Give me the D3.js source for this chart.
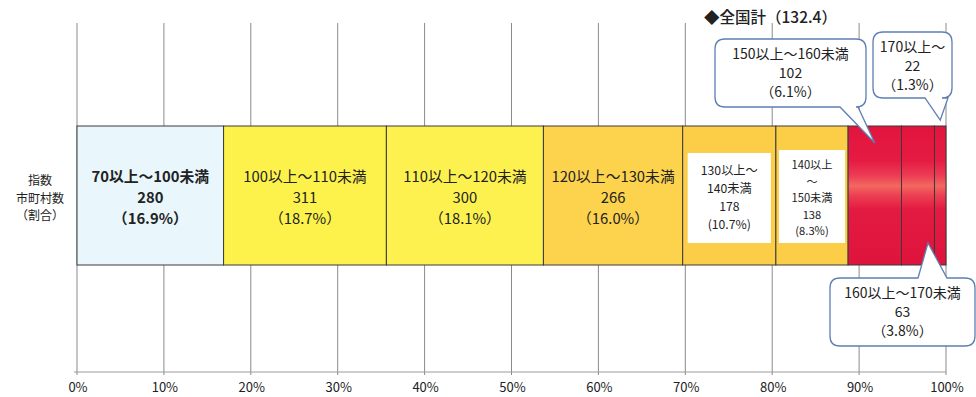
<!DOCTYPE html>
<html>
<head>
<meta charset="utf-8">
<script src="https://cdn.jsdelivr.net/npm/d3@7"></script>
<style>
  body { margin: 0; background: #fff; }
  svg text { font-family: "Noto Sans CJK JP", "Noto Sans", sans-serif; fill: #222; }
</style>
</head>
<body>
<div id="chart"></div>
<script>
// data
var categories = ["70以上～100未満", "100以上～110未満", "110以上～120未満", "120以上～130未満",
                  "130以上～140未満", "140以上～150未満", "150以上～160未満", "160以上～170未満", "170以上～"];
var counts = [280, 311, 300, 266, 178, 138, 102, 63, 22];
var shares = ["16.9%", "18.7%", "18.1%", "16.0%", "10.7%", "8.3%", "6.1%", "3.8%", "1.3%"];
var tickValues = [0, 10, 20, 30, 40, 50, 60, 70, 80, 90, 100];
var tickLabels = ["0%", "10%", "20%", "30%", "40%", "50%", "60%", "70%", "80%", "90%", "100%"];
var fills = ["#e9f7fc", "#fdf24c", "#fdf150", "#fdd34e", "#fccd47", "#fccd47", "url(#red)", "url(#red)", "url(#red)"];
var nationalLabel = "◆全国計（132.4）";
var yLabel = ["指数", "市町村数", "（割合）"];

var width = 976, height = 397;
var svg = d3.select("#chart").append("svg")
    .attr("width", width)
    .attr("height", height);

var x = d3.scaleLinear().domain([0, 100]).range([77, 946]);

var total = d3.sum(counts);
var cum = 0;
var segs = counts.map(function(c, i) {
  var s = { i: i, cat: categories[i], count: c, share: shares[i], x0: cum / total * 100 };
  cum += c;
  s.x1 = cum / total * 100;
  s.mid = (s.x0 + s.x1) / 2;
  return s;
});

var barTop = 126, barBottom = 265, axisY = 372, gridTop = 23;

// red gradient with the lighter band in the middle
var grad = svg.append("defs").append("linearGradient")
    .attr("id", "red").attr("x1", 0).attr("y1", 0).attr("x2", 0).attr("y2", 1);
[[0, "#e2143e"], [0.25, "#e51b43"], [0.36, "#ec3e55"], [0.43, "#f2685f"], [0.5, "#ec3f52"], [0.6, "#e31a41"], [1, "#de143d"]]
  .forEach(function(s) { grad.append("stop").attr("offset", s[0]).attr("stop-color", s[1]); });

// gridlines
svg.append("g").selectAll("line")
    .data(tickValues)
    .enter().append("line")
    .attr("x1", function(d) { return x(d); })
    .attr("x2", function(d) { return x(d); })
    .attr("y1", gridTop)
    .attr("y2", axisY + 3)
    .attr("stroke", "#8a8a8a")
    .attr("stroke-width", 1);

svg.append("line")
    .attr("x1", x(0) - 3).attr("x2", x(100))
    .attr("y1", axisY).attr("y2", axisY)
    .attr("stroke", "#9a9a9a");

svg.append("g").selectAll("text")
    .data(tickValues)
    .enter().append("text")
    .attr("x", function(d) { return x(d) + 1; })
    .attr("y", 392)
    .attr("text-anchor", "middle")
    .attr("font-size", 13)
    .text(function(d, i) { return tickLabels[i]; });

// bar segments
svg.append("g").selectAll("rect")
    .data(segs)
    .enter().append("rect")
    .attr("x", function(d) { return x(d.x0); })
    .attr("y", barTop)
    .attr("width", function(d) { return x(d.x1) - x(d.x0); })
    .attr("height", barBottom - barTop)
    .attr("fill", function(d, i) { return fills[i]; })
    .attr("stroke", "#3a3a3a")
    .attr("stroke-width", 1);

// y label
svg.append("g").selectAll("text")
    .data(yLabel)
    .enter().append("text")
    .attr("x", 40)
    .attr("y", function(d, i) { return 185 + i * 17.5; })
    .attr("text-anchor", "middle")
    .attr("font-size", 12)
    .attr("fill", "#333")
    .text(function(d) { return d; });

// labels inside the wide segments
var inner = segs.slice(0, 4);
inner.forEach(function(s) {
  var lines = [s.cat, String(s.count), "（" + s.share + "）"];
  svg.append("g").selectAll("text")
      .data(lines)
      .enter().append("text")
      .attr("x", x(s.mid))
      .attr("y", function(d, i) { return 182 + i * 21; })
      .attr("text-anchor", "middle")
      .attr("font-size", 14.8)
      .attr("font-weight", s.i === 0 ? 700 : 400)
      .text(function(d) { return d; });
});

// white boxes for the two narrow segments
var boxed = [
  { s: segs[4], lines: ["130以上～", "140未満", String(segs[4].count), "(" + segs[4].share + ")"], top: 153, pad: 5, lh: 18, fs: 12.2 },
  { s: segs[5], lines: ["140以上", "～", "150未満", String(segs[5].count), "(" + segs[5].share + ")"], top: 150, pad: 3, lh: 16.5, fs: 11.2 }
];
boxed.forEach(function(b) {
  svg.append("rect")
      .attr("x", x(b.s.x0) + b.pad)
      .attr("y", b.top)
      .attr("width", x(b.s.x1) - x(b.s.x0) - 2 * b.pad)
      .attr("height", 243 - b.top)
      .attr("fill", "#fff");
  var n = b.lines.length;
  var y0 = 198 - (n - 1) * b.lh / 2 + 4;
  svg.append("g").selectAll("text")
      .data(b.lines)
      .enter().append("text")
      .attr("x", x(b.s.mid))
      .attr("y", function(d, i) { return y0 + i * b.lh; })
      .attr("text-anchor", "middle")
      .attr("font-size", b.fs)
      .text(function(d) { return d; });
});

// callouts
function calloutPath(x0, y0, x1, y1, r, b1, b2, tx, ty, side) {
  var p = "M" + (x0 + r) + "," + y0;
  if (side === "top") p += "H" + b1 + "L" + tx + "," + ty + "L" + b2 + "," + y0;
  p += "H" + (x1 - r) + "Q" + x1 + "," + y0 + " " + x1 + "," + (y0 + r);
  p += "V" + (y1 - r) + "Q" + x1 + "," + y1 + " " + (x1 - r) + "," + y1;
  if (side === "bottom") p += "H" + b2 + "L" + tx + "," + ty + "L" + b1 + "," + y1;
  p += "H" + (x0 + r) + "Q" + x0 + "," + y1 + " " + x0 + "," + (y1 - r);
  p += "V" + (y0 + r) + "Q" + x0 + "," + y0 + " " + (x0 + r) + "," + y0 + "Z";
  return p;
}

var callouts = [
  { s: segs[6], box: [715, 39, 866, 107], base: [840, 858], ty: 143, side: "bottom" },
  { s: segs[8], box: [873, 32, 952, 98], base: [925, 948], ty: 120, side: "bottom" },
  { s: segs[7], box: [830, 278, 975, 346], base: [918, 947], ty: 243, side: "top" }
];
callouts.forEach(function(c) {
  var tx = x(c.s.mid) + (c.side === "top" ? 10 : 0);
  svg.append("path")
      .attr("d", calloutPath(c.box[0], c.box[1], c.box[2], c.box[3], 10, c.base[0], c.base[1], tx, c.ty, c.side))
      .attr("fill", "#fff")
      .attr("stroke", "#5d7fb3")
      .attr("stroke-width", 1.3);
  var lines = [c.s.cat, String(c.s.count), "（" + c.s.share + "）"];
  var cx = (c.box[0] + c.box[2]) / 2;
  svg.append("g").selectAll("text")
      .data(lines)
      .enter().append("text")
      .attr("x", cx)
      .attr("y", function(d, i) { return c.box[1] + 20 + i * 19; })
      .attr("text-anchor", "middle")
      .attr("font-size", 14)
      .text(function(d) { return d; });
});

// national total label
svg.append("text")
    .attr("x", 704)
    .attr("y", 23)
    .attr("font-size", 15.5)
    .attr("font-weight", 500)
    .attr("fill", "#333")
    .text(nationalLabel);
</script>
</body>
</html>
